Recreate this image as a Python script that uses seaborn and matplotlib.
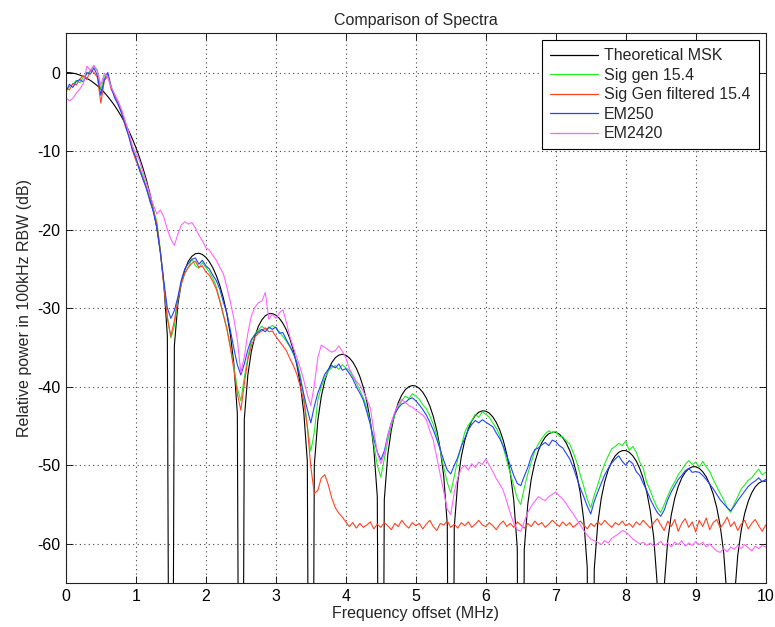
import numpy as np
import pandas as pd
import seaborn as sns
import matplotlib
matplotlib.use('Agg')
import matplotlib.pyplot as plt

# frequency grid (MHz), 0.05 MHz steps
freq = np.round(np.arange(0, 10.0001, 0.05), 2)

# theoretical MSK spectrum (dB), nulls pushed well below the axis
theory = [
    0.00, -0.02, -0.08, -0.18, -0.33, -0.51, -0.74, -1.01, -1.33, -1.69,
    -2.10, -2.55, -3.07, -3.64, -4.26, -4.95, -5.70, -6.53, -7.44, -8.44,
    -9.54, -10.77, -12.12, -13.65, -15.39, -17.41, -19.83, -22.83, -26.90, -33.51,
    -150, -34.81, -29.51, -26.76, -25.09, -24.03, -23.40, -23.07, -23.01, -23.16,
    -23.52, -24.09, -24.86, -25.86, -27.12, -28.70, -30.71, -33.34, -37.06, -43.35,
    -150, -44.07, -38.51, -35.52, -33.61, -32.33, -31.49, -30.96, -30.71, -30.69,
    -30.88, -31.29, -31.91, -32.75, -33.87, -35.32, -37.20, -39.71, -43.31, -49.48,
    -150, -49.99, -44.32, -41.23, -39.23, -37.86, -36.92, -36.31, -35.98, -35.87,
    -35.99, -36.32, -36.86, -37.64, -38.69, -40.07, -41.88, -44.33, -47.87, -53.98,
    -150, -54.37, -48.65, -45.50, -43.45, -42.02, -41.04, -40.38, -40.00, -39.85,
    -39.91, -40.20, -40.70, -41.43, -42.44, -43.78, -45.55, -47.96, -51.46, -57.53,
    -150, -57.85, -52.10, -48.91, -46.83, -45.37, -44.35, -43.66, -43.25, -43.07,
    -43.11, -43.36, -43.84, -44.54, -45.52, -46.83, -48.58, -50.96, -54.44, -60.48,
    -150, -60.75, -54.97, -51.76, -49.66, -48.18, -47.13, -46.42, -45.99, -45.79,
    -45.80, -46.03, -46.49, -47.17, -48.13, -49.42, -51.15, -53.51, -56.97, -63.00,
    -150, -63.23, -57.44, -54.21, -52.08, -50.59, -49.53, -48.80, -48.35, -48.13,
    -48.13, -48.35, -48.79, -49.45, -50.40, -51.68, -53.39, -55.74, -59.18, -65.19,
    -150, -65.40, -59.59, -56.35, -54.21, -52.70, -51.63, -50.89, -50.43, -50.20,
    -50.18, -50.39, -50.82, -51.47, -52.41, -53.67, -55.37, -57.71, -61.14, -67.14,
    -150, -67.33, -61.51, -58.26, -56.11, -54.59, -53.51, -52.76, -52.28, -52.04,
    -52.02,
]

sig_gen = [
    -2.3, -1.8, -1.5, -1.0, -1.3, -0.6, -0.2, 0.2, 0.9, 0.3,
    -2.2, -0.4, -0.3, -1.8, -3.0, -3.9, -5.0, -6.4, -7.8, -9.6,
    -11.0, -12.0, -13.1, -14.6, -16.0, -17.4, -19.0, -22.6, -27.0, -31.0,
    -33.8, -32.3, -29.0, -26.8, -25.6, -24.8, -23.7, -24.6, -24.9, -24.2,
    -24.8, -25.4, -26.2, -27.3, -29.0, -30.9, -32.6, -34.9, -37.4, -40.2,
    -41.8, -38.8, -36.3, -34.2, -33.3, -32.8, -32.3, -32.7, -32.6, -32.2,
    -32.5, -33.0, -33.6, -34.2, -34.9, -35.8, -36.8, -38.6, -41.2, -45.0,
    -48.2, -45.8, -41.7, -40.0, -38.9, -38.0, -37.6, -37.3, -37.8, -37.2,
    -37.6, -37.9, -38.7, -39.5, -40.4, -41.4, -42.7, -44.6, -47.3, -50.0,
    -51.5, -49.2, -46.9, -45.0, -43.6, -42.6, -41.8, -41.2, -41.5, -40.9,
    -41.2, -41.6, -42.3, -42.8, -43.7, -44.8, -46.2, -48.1, -50.3, -52.2,
    -53.5, -51.4, -49.2, -47.6, -45.8, -44.9, -44.3, -43.5, -43.9, -43.2,
    -43.5, -43.9, -44.6, -45.3, -46.2, -47.7, -49.4, -51.0, -52.6, -54.2,
    -55.0, -52.9, -51.1, -49.6, -48.2, -47.3, -46.6, -46.0, -45.6, -45.9,
    -45.7, -46.3, -46.4, -46.9, -47.3, -48.4, -49.6, -51.2, -52.7, -54.3,
    -55.4, -53.8, -52.5, -51.0, -49.8, -48.8, -47.9, -47.6, -47.2, -47.5,
    -46.9, -48.1, -47.6, -48.3, -49.6, -50.4, -52.2, -53.2, -54.4, -55.4,
    -56.0, -55.0, -53.9, -52.9, -52.1, -51.2, -50.6, -49.9, -49.4, -49.9,
    -49.6, -50.2, -49.5, -50.2, -50.8, -51.8, -52.7, -53.6, -54.4, -55.4,
    -56.0, -54.9, -54.0, -53.0, -52.5, -51.9, -51.6, -51.0, -50.5, -51.2,
    -50.9,
]

sig_gen_filt = [
    -2.0, -2.2, -1.4, -1.6, -0.8, -0.4, -0.9, 0.3, 0.0, -0.6,
    -3.9, -1.0, -0.5, -2.2, -2.9, -4.2, -5.1, -6.9, -8.0, -9.9,
    -11.2, -12.1, -13.6, -14.6, -16.4, -17.6, -19.3, -22.8, -27.2, -31.3,
    -33.6, -31.6, -28.8, -26.9, -25.5, -24.8, -24.3, -24.0, -24.8, -24.6,
    -25.4, -25.8, -26.6, -27.6, -29.1, -30.8, -32.6, -35.0, -37.8, -40.9,
    -43.0, -39.6, -36.6, -34.8, -33.7, -33.2, -32.9, -32.5, -33.0, -32.9,
    -33.6, -34.2, -34.8, -35.4, -36.4, -37.3, -38.4, -40.0, -41.8, -45.1,
    -50.2, -53.6, -53.2, -51.6, -51.2, -52.5, -54.2, -55.4, -56.1, -56.6,
    -57.2, -57.8, -57.3, -58.0, -57.4, -57.9, -57.6, -57.2, -58.1, -57.5,
    -57.9, -57.3, -57.7, -58.2, -57.4, -57.8, -57.0, -57.6, -58.0, -57.3,
    -57.7, -57.4, -58.1, -57.5, -57.0, -57.8, -58.3, -57.4, -57.6, -57.1,
    -57.9, -57.5, -58.0, -57.3, -57.7, -57.2, -57.9, -57.5, -57.0, -57.6,
    -57.8, -57.3, -57.7, -58.2, -57.5, -57.1, -57.8, -57.4, -57.9, -57.2,
    -57.6, -58.0, -57.4, -57.8, -57.1, -57.6, -57.3, -57.9, -57.5, -57.0,
    -57.4, -57.8, -57.2, -57.7, -57.3, -57.9, -57.5, -57.1, -57.6, -58.1,
    -57.4, -57.8, -57.2, -57.6, -57.0, -57.5, -57.9, -57.3, -57.6, -57.1,
    -57.7, -57.4, -57.9, -57.2, -57.6, -57.0, -57.5, -58.0, -57.3, -56.8,
    -57.6, -58.3, -57.1, -57.8, -56.9, -58.4, -57.4, -56.8, -57.9, -57.2,
    -58.5, -57.0, -57.8, -56.7, -58.2, -57.3, -56.9, -58.0, -57.4, -56.6,
    -57.8, -57.2, -58.3, -57.5, -57.0, -58.1, -57.4, -56.9, -57.7, -58.4,
    -57.6,
]

em250 = [
    -2.5, -1.5, -1.9, -1.1, -0.9, -1.2, 0.0, -0.2, 0.6, -0.4,
    -2.9, -0.9, 0.0, -2.0, -3.3, -4.1, -5.3, -6.7, -8.2, -9.8,
    -10.8, -12.4, -13.5, -14.8, -16.2, -17.8, -19.7, -22.9, -26.6, -30.0,
    -31.3, -30.3, -28.6, -26.4, -25.0, -24.3, -23.8, -23.6, -24.4, -23.9,
    -24.6, -25.0, -25.8, -26.5, -27.6, -29.2, -30.6, -32.8, -35.1, -37.2,
    -38.5, -37.1, -35.3, -34.0, -33.4, -33.0, -32.7, -33.0, -32.4, -32.7,
    -32.4, -33.2, -33.1, -34.0, -34.8, -35.7, -37.0, -39.0, -41.0, -42.9,
    -44.6, -42.5, -40.8, -39.6, -38.4, -37.8, -37.3, -37.6, -37.1, -37.9,
    -37.7, -38.3, -39.0, -40.0, -40.8, -41.7, -43.2, -44.8, -46.6, -48.3,
    -49.3, -48.2, -46.2, -44.6, -43.4, -42.7, -42.2, -42.0, -41.6, -41.4,
    -41.8, -42.3, -42.9, -43.6, -44.5, -45.5, -46.7, -48.0, -49.4, -50.6,
    -51.1, -50.0, -49.0, -47.6, -46.6, -45.5, -44.8, -44.3, -44.6, -44.2,
    -44.5, -44.8, -45.1, -45.9, -46.6, -47.6, -48.8, -50.0, -51.3, -52.3,
    -52.6, -51.4, -50.3, -48.9, -48.0, -47.8, -47.4, -47.1, -47.5, -46.8,
    -47.0, -47.5, -47.8, -48.5, -49.2, -50.3, -51.6, -52.9, -54.0, -55.2,
    -56.2, -54.6, -53.4, -52.3, -51.2, -50.4, -49.7, -49.2, -48.8, -49.5,
    -50.0, -49.4, -49.8, -50.8, -51.3, -52.3, -53.2, -54.3, -55.2, -56.0,
    -56.5, -55.7, -54.4, -53.4, -52.6, -51.8, -51.3, -50.7, -50.4, -50.9,
    -50.8, -50.9, -51.3, -51.8, -52.4, -53.0, -53.7, -54.4, -54.9, -55.4,
    -55.8, -55.2, -54.5, -53.9, -53.3, -52.7, -52.3, -52.0, -51.6, -52.1,
    -51.8,
]

em2420 = [
    -3.2, -3.6, -3.3, -2.6, -2.1, -1.4, 0.8, 0.3, 0.9, 0.1,
    -1.6, -0.1, -0.6, -1.9, -2.8, -3.7, -4.8, -6.2, -7.6, -9.3,
    -10.3, -11.2, -12.6, -14.0, -15.5, -16.9, -18.0, -17.5, -18.4, -20.0,
    -21.2, -22.0, -20.6, -19.4, -19.0, -19.3, -19.1, -19.8, -20.7, -21.4,
    -22.3, -22.6, -23.3, -23.9, -24.8, -25.6, -27.3, -29.2, -31.3, -34.0,
    -38.2, -36.2, -33.2, -31.0, -29.9, -29.3, -29.1, -28.0, -31.4, -30.8,
    -31.3, -30.6, -30.2, -31.8, -33.6, -35.0, -36.3, -37.6, -39.2, -41.0,
    -42.4, -39.8, -36.3, -34.7, -35.0, -35.3, -35.6, -35.4, -34.8, -35.5,
    -36.3, -37.7, -38.5, -39.3, -39.8, -40.6, -41.6, -42.7, -45.6, -48.4,
    -49.8, -48.6, -46.3, -44.6, -43.2, -42.3, -41.6, -42.0, -42.4, -42.6,
    -43.0, -43.3, -43.6, -44.2, -45.6, -46.8, -49.0, -51.2, -53.4, -55.6,
    -56.3, -53.4, -51.6, -50.4, -50.0, -50.6, -49.8, -50.3, -49.6, -49.9,
    -49.2, -50.0, -50.8, -51.7, -52.4, -53.2, -54.6, -56.1, -57.4, -58.2,
    -58.4, -57.2, -56.0, -55.2, -54.6, -54.0, -54.3, -54.5, -54.0, -53.7,
    -53.4, -53.9, -54.3, -54.9, -55.6, -56.2, -56.9, -57.6, -58.3, -58.9,
    -59.4, -59.6, -59.8, -60.1, -59.6, -59.9, -59.3, -59.0, -58.7, -58.3,
    -58.5, -58.9, -59.4, -59.7, -60.0, -59.8, -60.2, -59.9, -60.3, -60.0,
    -59.7, -60.2, -59.9, -60.4, -59.8, -60.1, -59.6, -60.3, -59.9, -60.2,
    -59.7, -60.1, -59.8, -60.4, -60.0, -60.5, -60.9, -61.1, -60.6, -61.0,
    -60.4, -60.7, -60.2, -60.6, -60.1, -60.5, -60.9, -60.3, -60.6, -60.2,
    -60.4,
]

labels = ['Theoretical MSK', 'Sig gen 15.4', 'Sig Gen filtered 15.4', 'EM250', 'EM2420']
colors = ['#000000', '#22ee22', '#ff4422', '#2244ff', '#ff66ff']
series = [theory, sig_gen, sig_gen_filt, em250, em2420]

df = pd.concat([pd.DataFrame({'freq': freq, 'power': vals, 'trace': lab})
                for lab, vals in zip(labels, series)], ignore_index=True)

sns.set_style('ticks')
plt.rcParams['font.family'] = ['Liberation Sans', 'DejaVu Sans']
plt.rcParams['axes.unicode_minus'] = False

fig = plt.figure(figsize=(7.75, 6.27), dpi=100)
ax = fig.add_axes([0.085, 0.070, 0.903, 0.877])

sns.lineplot(data=df, x='freq', y='power', hue='trace', hue_order=labels,
             palette=dict(zip(labels, colors)), estimator=None, sort=False,
             linewidth=0.8, ax=ax)

ax.set_xlim(0, 10)
ax.set_ylim(-65, 5)
ax.set_xticks(range(0, 11))
ax.set_yticks(range(-60, 1, 10))
ax.grid(True, linestyle=(0, (1, 3)), color='#444444', linewidth=0.8)
ax.tick_params(direction='in', top=True, right=True, length=5, labelsize=11.5,
               width=0.6, colors='black', pad=4)
for s in ax.spines.values():
    s.set_linewidth(0.8)
    s.set_color('#222222')

ax.set_title('Comparison of Spectra', fontsize=11.5, pad=6)
ax.set_xlabel('Frequency offset (MHz)', fontsize=11.5, labelpad=2)
ax.set_ylabel('Relative power in 100kHz RBW (dB)', fontsize=11.5, labelpad=4)

leg = ax.legend(loc='upper right', fontsize=11.5, frameon=True, fancybox=False,
                framealpha=1, edgecolor='black', borderaxespad=0.45,
                handlelength=3.0, handletextpad=0.4, labelspacing=0.28,
                borderpad=0.5)
leg.get_frame().set_linewidth(0.8)
for h in leg.get_lines():
    h.set_linewidth(0.9)

fig.savefig('out.png', dpi=100)
